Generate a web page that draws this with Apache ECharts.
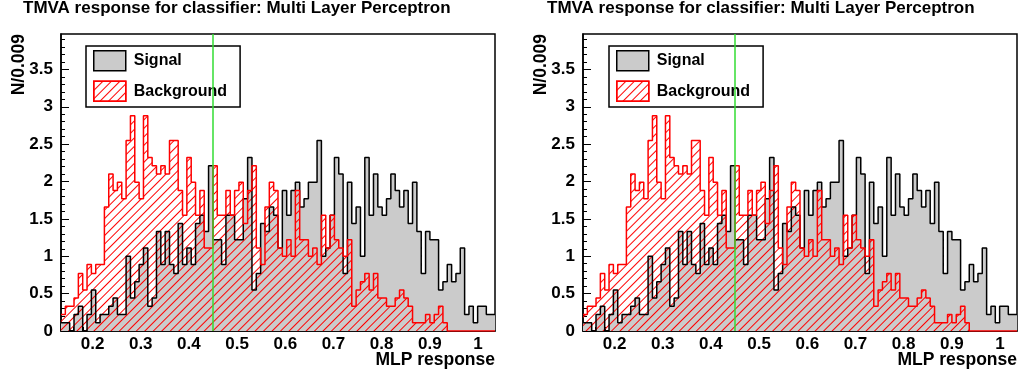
<!DOCTYPE html>
<html>
<head>
<meta charset="utf-8">
<title>TMVA MLP response</title>
<script src="https://cdn.jsdelivr.net/npm/echarts@6/dist/echarts.min.js"></script>
<style>
  html, body { margin: 0; padding: 0; background: #fff; }
  #main { width: 1021px; height: 377px; }
</style>
</head>
<body>
<div id="main"></div>
<script>
// histogram range: 100 bins of 0.009 in MLP response
var xMin = 0.1345;
var xMax = 1.0353;
var yMax = 3.974;
var cutValue = 0.45;

var xTicks = [0.2, 0.3, 0.4, 0.5, 0.6, 0.7, 0.8, 0.9, 1];
var yTicks = [0, 0.5, 1, 1.5, 2, 2.5, 3, 3.5];

// N/0.009 per bin
var signal = [
  0.11, 0.11, 0, 0.22, 0.33, 0, 0.22, 0.55, 0.11, 0.22,
  0.22, 0.33, 0.44, 0.22, 0.22, 1.00, 0.44, 0.66, 0.89, 1.11,
  0.33, 0.44, 1.33, 0.89, 1.33, 0.89, 0.77, 1.44, 0.89, 1.11,
  0.89, 1.44, 1.55, 1.33, 2.21, 1.22, 1.22, 0.89, 1.55, 1.55,
  1.22, 1.22, 1.77, 2.32, 0.55, 0.77, 1.44, 1.33, 1.66, 1.55,
  1.11, 1.88, 1.55, 1.88, 1.99, 1.66, 1.77, 1.99, 1.99, 2.55,
  1.00, 1.11, 1.55, 2.32, 2.10, 0.77, 1.99, 1.44, 1.66, 1.00,
  2.32, 1.55, 2.10, 1.66, 1.55, 1.77, 2.10, 1.88, 1.66, 1.88,
  1.44, 1.99, 1.33, 0.77, 1.33, 1.22, 1.22, 0.55, 0.66, 0.89,
  0.66, 0.77, 1.11, 0.22, 0.33, 0.11, 0.33, 0.33, 0.22, 0.22
];
var background = [
  0.22, 0.33, 0.33, 0.44, 0.77, 0.55, 0.89, 0.77, 0.89, 0.89,
  1.66, 2.10, 1.88, 1.99, 1.77, 2.55, 2.88, 1.99, 1.77, 2.88,
  2.32, 2.21, 2.10, 2.21, 2.10, 2.55, 2.55, 1.88, 1.55, 2.32,
  1.99, 1.55, 1.88, 1.11, 1.11, 2.21, 1.55, 1.55, 1.88, 1.55,
  1.88, 1.99, 1.44, 1.88, 2.21, 1.11, 0.89, 1.66, 1.99, 1.88,
  1.11, 1.00, 1.22, 1.00, 1.88, 1.22, 1.22, 1.00, 1.11, 0.89,
  1.55, 1.11, 1.55, 1.22, 1.11, 1.00, 1.22, 0.33, 0.55, 0.66,
  0.77, 0.55, 0.77, 0.44, 0.44, 0.33, 0.33, 0.44, 0.55, 0.44,
  0.33, 0.11, 0.11, 0.11, 0.22, 0.11, 0.22, 0.33, 0.11, 0,
  0, 0, 0, 0, 0, 0, 0, 0, 0, 0
];

var FONT = '"Liberation Sans", Arial, Helvetica, sans-serif';
var chart = echarts.init(document.getElementById('main'), null, { renderer: 'canvas' });

// red "///" hatching (ROOT fill style 3554)
var hatchDecal = {
  symbol: 'rect',
  symbolSize: 1,
  color: '#ff0000',
  backgroundColor: 'rgba(0,0,0,0)',
  dashArrayX: [1, 0],
  dashArrayY: [1, 5],
  rotation: -Math.PI / 4
};

var binW = (xMax - xMin) / signal.length;
function histPoints(vals) {
  var pts = [];
  for (var i = 0; i < vals.length; i++) {
    pts.push([xMin + i * binW, vals[i]]);
  }
  pts.push([xMax, vals[vals.length - 1]]);
  return pts;
}
var xMinor = [], yMinor = [];
for (var t = 0.14; t < xMax; t += 0.02) xMinor.push(+t.toFixed(2));
for (var u = 0.1; u < yMax; u += 0.1) yMinor.push(+u.toFixed(1));

var panels = [
  { left: 61, titleLeft: 23, legendLeft: 86 },
  { left: 583, titleLeft: 547, legendLeft: 609 }
];

var option = {
  animation: false,
  backgroundColor: '#fff',
  title: [],
  legend: [],
  grid: [],
  xAxis: [],
  yAxis: [],
  series: []
};

panels.forEach(function (p, g) {
  option.title.push({
    text: 'TMVA response for classifier: Multi Layer Perceptron',
    left: p.titleLeft, top: 0, padding: 0,
    textStyle: { fontFamily: FONT, fontSize: 17, fontWeight: 'bold', color: '#000' }
  });
  option.grid.push({
    left: p.left, top: 34, width: 434, height: 297,
    show: true, borderColor: '#000', borderWidth: 1.5, backgroundColor: 'transparent'
  });
  option.legend.push({
    left: p.legendLeft, top: 46, orient: 'vertical',
    itemWidth: 32, itemHeight: 20, itemGap: 9,
    padding: [4, 13, 5, 7],
    borderColor: '#000', borderWidth: 1.5, backgroundColor: '#fff',
    selectedMode: false,
    textStyle: { fontFamily: FONT, fontSize: 16, fontWeight: 'bold', color: '#000', padding: [0, 0, 0, 3] },
    data: [
      { name: 'Signal', icon: 'rect', itemStyle: { color: '#cbcbcb', borderColor: '#000', borderWidth: 1.5 } },
      { name: 'Background', icon: 'rect', itemStyle: { color: '#fff', decal: hatchDecal, borderColor: '#ff0000', borderWidth: 1.5 } }
    ]
  });
  // main axes: major ticks + labels
  option.xAxis.push({
    gridIndex: g, type: 'value', min: xMin, max: xMax, position: 'bottom',
    axisLine: { show: true, lineStyle: { color: '#000', width: 1.5 } },
    axisTick: { show: true, inside: true, length: 8, customValues: xTicks, lineStyle: { color: '#000', width: 1 } },
    axisLabel: { customValues: xTicks, margin: 5, color: '#000', fontFamily: FONT, fontSize: 17, fontWeight: 'bold' },
    splitLine: { show: false },
    name: 'MLP response', nameLocation: 'end', nameGap: 0, nameMoveOverlap: false,
    nameTextStyle: { fontFamily: FONT, fontSize: 17.5, fontWeight: 'bold', color: '#000',
      align: 'right', verticalAlign: 'top', padding: [20, 0, 0, 0] }
  });
  option.yAxis.push({
    gridIndex: g, type: 'value', min: 0, max: yMax, position: 'left',
    axisLine: { show: true, lineStyle: { color: '#000', width: 1.5 } },
    axisTick: { show: true, inside: true, length: 8, customValues: yTicks, lineStyle: { color: '#000', width: 1 } },
    axisLabel: { customValues: yTicks, margin: 8, color: '#000', fontFamily: FONT, fontSize: 17, fontWeight: 'bold' },
    splitLine: { show: false },
    name: 'N/0.009', nameLocation: 'end', nameGap: 0, nameRotate: 90, nameMoveOverlap: false,
    nameTextStyle: { fontFamily: FONT, fontSize: 17.5, fontWeight: 'bold', color: '#000',
      align: 'right', verticalAlign: 'bottom', padding: [0, 0, 33, 0] }
  });
  // minor tick axes
  option.xAxis.push({
    gridIndex: g, type: 'value', min: xMin, max: xMax, position: 'bottom',
    axisLine: { show: false }, axisLabel: { show: false }, splitLine: { show: false },
    axisTick: { show: true, inside: true, length: 4, customValues: xMinor, lineStyle: { color: '#000', width: 1 } }
  });
  option.yAxis.push({
    gridIndex: g, type: 'value', min: 0, max: yMax, position: 'left',
    axisLine: { show: false }, axisLabel: { show: false }, splitLine: { show: false },
    axisTick: { show: true, inside: true, length: 4, customValues: yMinor, lineStyle: { color: '#000', width: 1 } }
  });

  option.series.push({
    name: 'Signal', type: 'line', step: 'end',
    xAxisIndex: 2 * g, yAxisIndex: 2 * g,
    data: histPoints(signal),
    symbol: 'none', showSymbol: false,
    lineStyle: { color: '#000', width: 1.5 },
    itemStyle: { color: '#cbcbcb' },
    areaStyle: { color: '#cbcbcb', opacity: 1 },
    emphasis: { disabled: true }
  });
  option.series.push({
    name: 'Background', type: 'line', step: 'end',
    xAxisIndex: 2 * g, yAxisIndex: 2 * g,
    data: histPoints(background),
    symbol: 'none', showSymbol: false,
    lineStyle: { color: '#ff0000', width: 1.5 },
    itemStyle: { color: '#ff0000', decal: hatchDecal },
    areaStyle: { color: 'rgba(255,255,255,0)', opacity: 1 },
    emphasis: { disabled: true },
    markLine: {
      silent: true, symbol: ['none', 'none'],
      label: { show: false },
      emphasis: { disabled: true },
      lineStyle: { color: '#33dd33', width: 1.5, type: 'solid', opacity: 1 },
      data: [{ xAxis: cutValue, lineStyle: { color: '#33dd33', width: 1.5 } }]
    }
  });
});

chart.setOption(option);
</script>
</body>
</html>
